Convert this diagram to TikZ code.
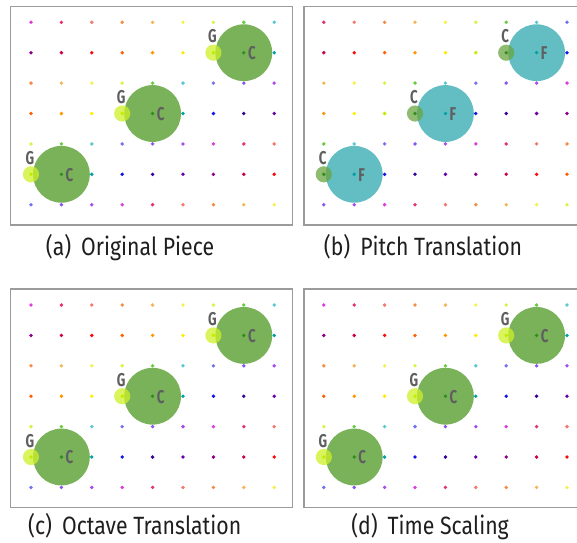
\documentclass[tikz,border=0pt]{standalone}
\usepackage{fontspec}
\setmainfont{Fira Sans}
\newfontfamily\capfont{Fira Sans}[FakeStretch=0.85]
\newfontfamily\lblfont{Fira Sans}[FakeStretch=0.72]
% saturated (odd rows), indexed along circle of fifths (0 = C)
\definecolor{sat0}{RGB}{50,140,30}
\definecolor{sat1}{RGB}{0,160,165}
\definecolor{sat2}{RGB}{20,20,230}
\definecolor{sat3}{RGB}{55,0,150}
\definecolor{sat4}{RGB}{105,0,165}
\definecolor{sat5}{RGB}{140,0,140}
\definecolor{sat6}{RGB}{205,0,70}
\definecolor{sat7}{RGB}{250,10,10}
\definecolor{sat8}{RGB}{255,95,0}
\definecolor{sat9}{RGB}{255,150,0}
\definecolor{sat10}{RGB}{255,235,0}
\definecolor{sat11}{RGB}{195,235,0}
% light (even rows)
\definecolor{lt0}{RGB}{100,205,60}
\definecolor{lt1}{RGB}{90,200,210}
\definecolor{lt2}{RGB}{115,115,240}
\definecolor{lt3}{RGB}{135,85,240}
\definecolor{lt4}{RGB}{165,75,240}
\definecolor{lt5}{RGB}{220,60,220}
\definecolor{lt6}{RGB}{230,50,110}
\definecolor{lt7}{RGB}{245,120,110}
\definecolor{lt8}{RGB}{245,140,70}
\definecolor{lt9}{RGB}{245,180,90}
\definecolor{lt10}{RGB}{245,240,80}
\definecolor{lt11}{RGB}{210,245,70}
\definecolor{framegray}{RGB}{155,155,155}
\definecolor{biggreen}{RGB}{122,178,90}
\definecolor{bigteal}{RGB}{98,190,195}
\definecolor{smallyellow}{RGB}{205,240,40}
\definecolor{smallgreen}{RGB}{105,165,65}
\definecolor{lblgray}{RGB}{95,95,95}
\definecolor{capblack}{RGB}{30,30,30}
\tikzset{
  framebox/.style={draw=framegray, line width=1.3pt},
  bignote/.style={fill=#1},
  smallnote/.style={fill=#1, fill opacity=0.75},
  notelbl/.style={inner sep=0pt, text=lblgray, font=\lblfont\bfseries\fontsize{18.5}{18.5}\selectfont},
  caption/.style={inner sep=0pt, anchor=base, text=capblack, font=\capfont\fontsize{25}{25}\selectfont}
}
% #1 colour offset, #2 big colour, #3 small colour, #4 big label, #5 small label, #6 name prefix
\newcommand\drawpanel[6]{%
  % note circles
  \foreach \cc/\rr [count=\i] in {7/1,4/3,1/5}{%
    \fill[bignote=#2] ({30.4*\cc},{30.4*\rr}) circle (28.4);
    \fill[smallnote=#3] ({30.4*(\cc-1)},{30.4*\rr}) circle (8.1);
  }
  % grid of pitch dots
  \foreach \r in {0,...,6}{%
    \foreach \c in {0,...,8}{%
      \pgfmathtruncatemacro\m{floor(\r/2)}%
      \pgfmathtruncatemacro\k{mod(\c+#1+3*\m,12)}%
      \pgfmathtruncatemacro\odd{mod(\r,2)}%
      \ifnum\odd=1 \def\pre{sat}\else\def\pre{lt}\fi
      \fill[\pre\k] ({30.4*\c},{30.4*\r}) circle (1.9);
    }
  }
  % labels
  \foreach \cc/\rr [count=\i] in {7/1,4/3,1/5}{%
    \node[notelbl, anchor=west] (#6-big\i) at ({30.4*\cc+4},{30.4*\rr+0.5}) {#4};
    \node[notelbl, anchor=base] (#6-small\i) at ({30.4*(\cc-1)-1},{30.4*\rr-10}) {#5};
  }
}
\begin{document}
\begin{tikzpicture}[x=1pt,y=-1pt]
\useasboundingbox (0,0) rectangle (577,542);
% panel frames
\draw[framebox] (10.3,6.7) rectangle (292.5,225);
\draw[framebox] (580,6.7) -- (304,6.7) -- (304,225) -- (580,225);
\draw[framebox] (10.3,289) rectangle (292.5,507.7);
\draw[framebox] (580,289) -- (304,289) -- (304,507.7) -- (580,507.7);
% (a)
\begin{scope}[shift={(31,22.3)}]
  \drawpanel{5}{biggreen}{smallyellow}{C}{G}{a}
\end{scope}
% (b)
\begin{scope}[shift={(323.8,22.3)}]
  \drawpanel{6}{bigteal}{smallgreen}{F}{C}{b}
\end{scope}
% (c)
\begin{scope}[shift={(31,305)}]
  \drawpanel{5}{biggreen}{smallyellow}{C}{G}{c}
\end{scope}
% (d)
\begin{scope}[shift={(323.8,305)}]
  \drawpanel{5}{biggreen}{smallyellow}{C}{G}{d}
\end{scope}
% captions
\node[caption] (capa) at (130,255) {(a)\hspace{0.4em}Original Piece};
\node[caption] (capb) at (423,255) {(b)\hspace{0.4em}Pitch Translation};
\node[caption] (capc) at (134.7,534.5) {(c)\hspace{0.4em}Octave Translation};
\node[caption] (capd) at (430,534.5) {(d)\hspace{0.4em}Time Scaling};
\end{tikzpicture}
\end{document}
